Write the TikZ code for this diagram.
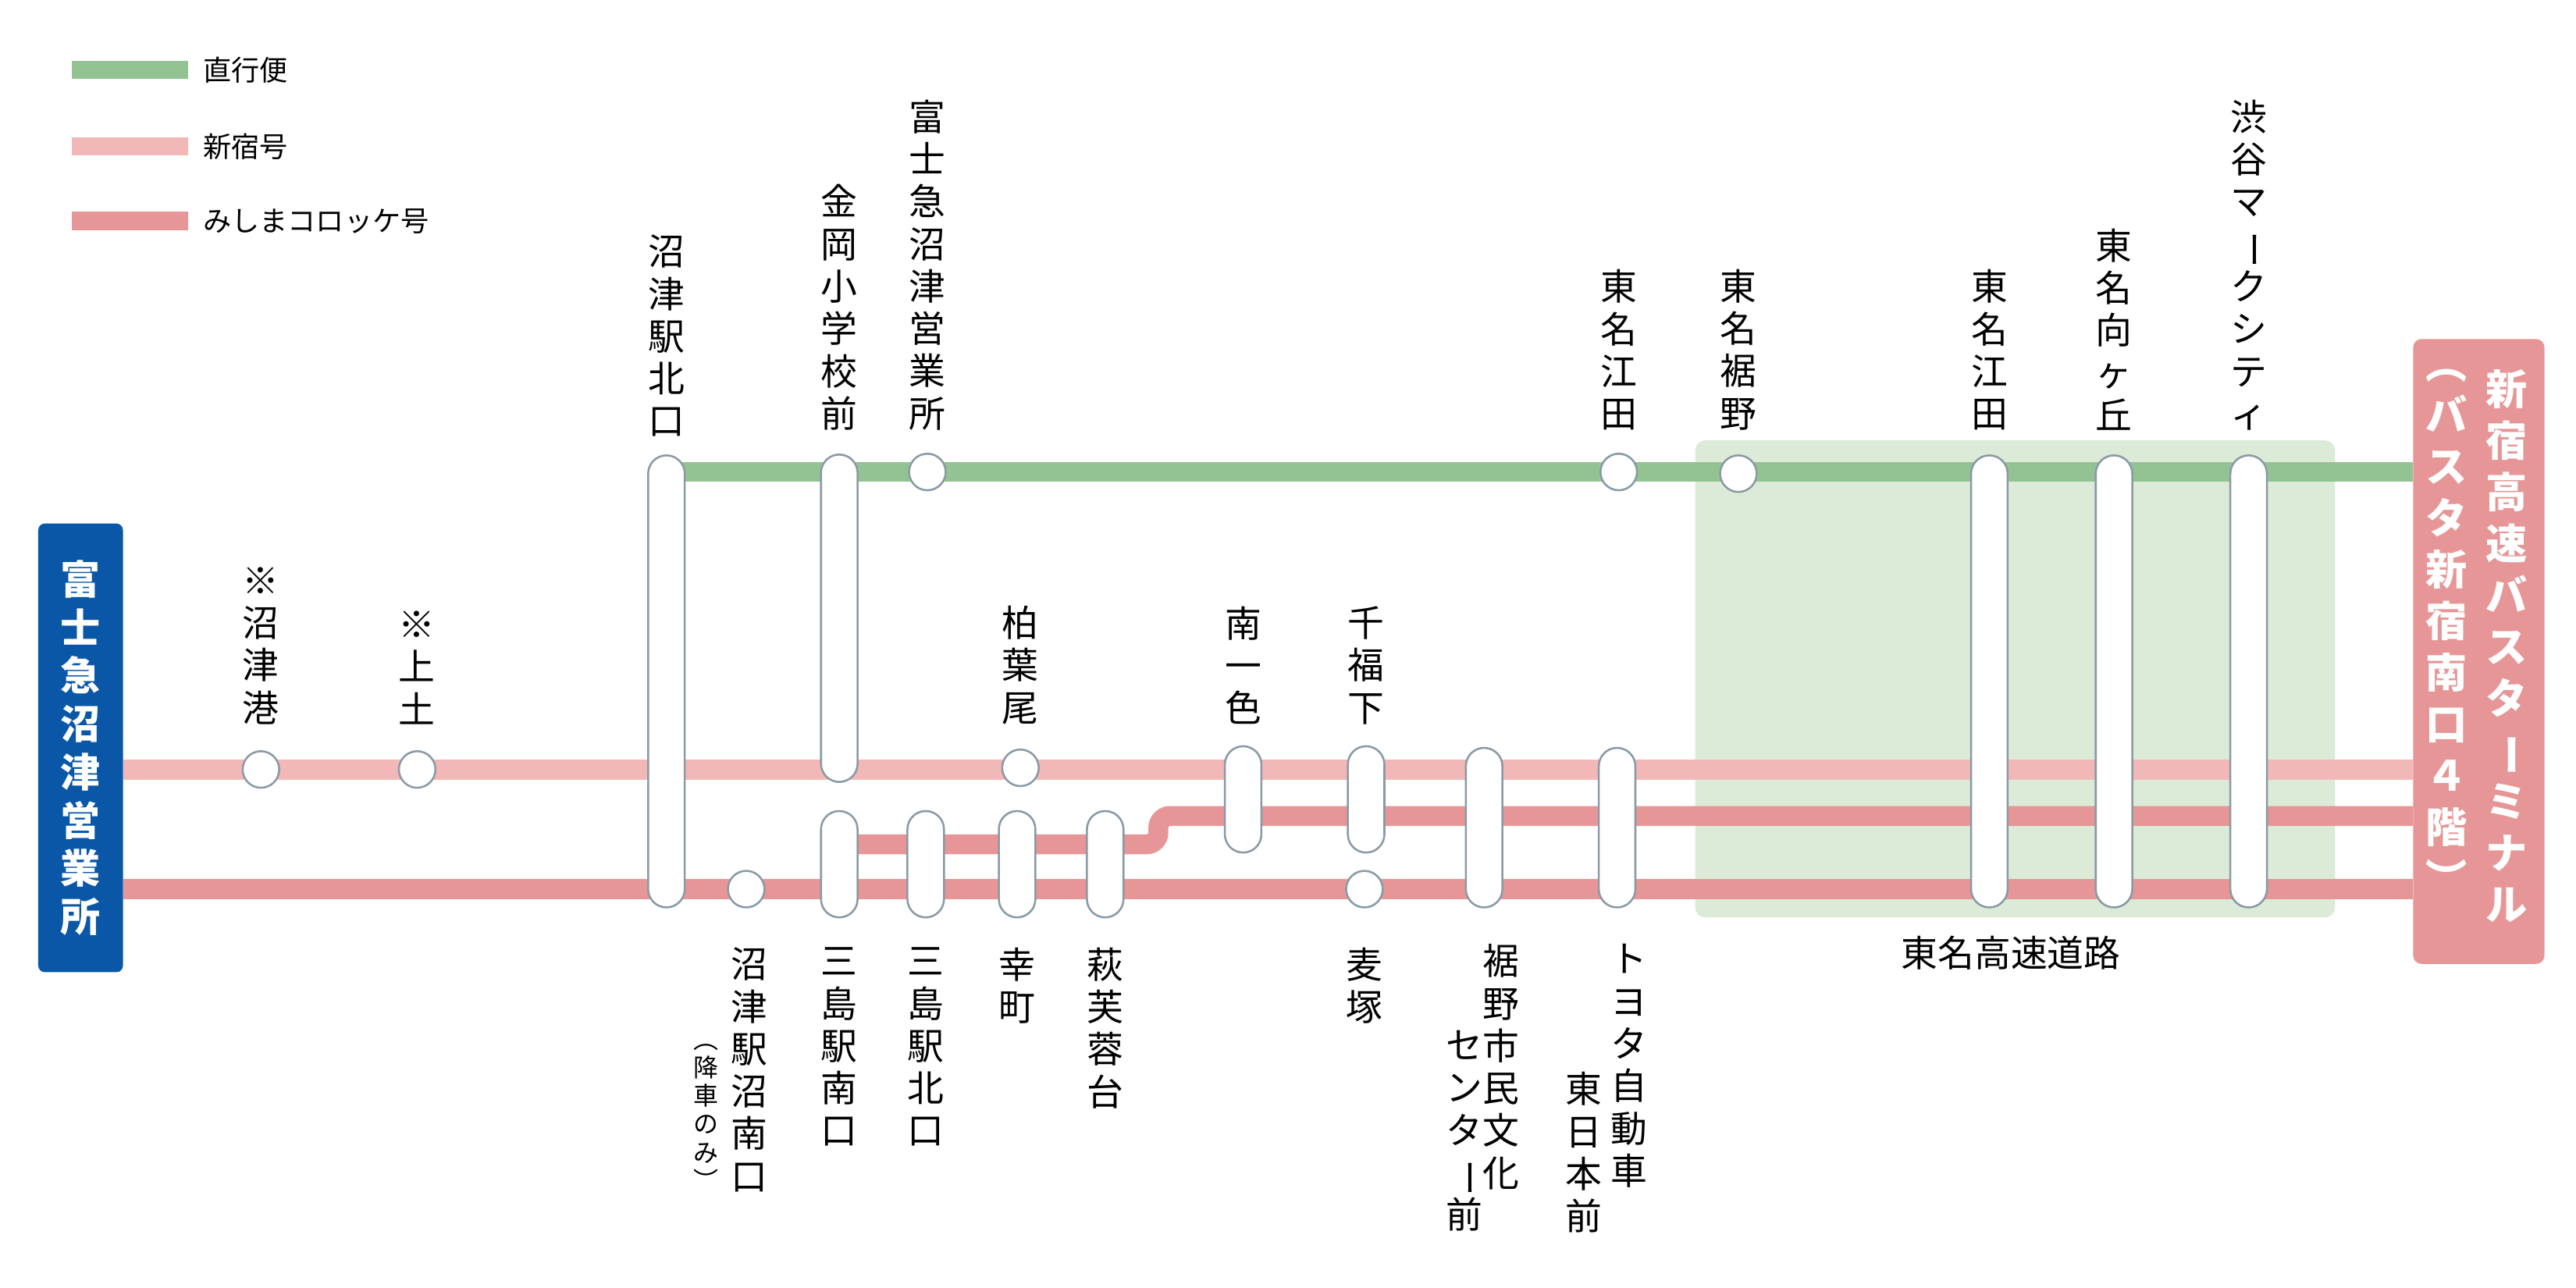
\documentclass[tikz,border=0pt]{standalone}
\usepackage{fontspec}
\setmainfont{Noto Sans CJK JP}
\usepackage{graphicx}
\newcommand\VB{\rotatebox[origin=c]{-90}{ー}}
\definecolor{gr}{HTML}{93C393}
\definecolor{lp}{HTML}{F2B8B8}
\definecolor{mp}{HTML}{E69696}
\definecolor{bl}{HTML}{0A57A8}
\definecolor{hl}{HTML}{DBEBD8}
\definecolor{st}{HTML}{8A9AA6}
\tikzset{
  lab/.style={align=center,inner sep=0pt,font=\fontsize{22}{25.5}\selectfont},
  up/.style={lab,anchor=south},
  dn/.style={lab,anchor=north},
  pill/.style={draw=st,line width=1.2pt,fill=white,rounded corners=11pt,minimum width=22pt,inner sep=0pt},
  stop/.style={draw=st,line width=1.2pt,fill=white,circle,minimum size=22pt,inner sep=0pt},
  gl/.style={gr,line width=12pt},
  pl/.style={lp,line width=12pt},
  ml/.style={mp,line width=12pt},
  leg/.style={anchor=west,inner sep=0pt,font=\fontsize{17}{20}\selectfont},
}
\begin{document}
\begin{tikzpicture}[x=1pt,y=-1pt]
\useasboundingbox (0,0) rectangle (1550,775);
% legend
\draw[gr,line width=11pt] (43,42) -- (113,42);
\node[leg] (l1) at (122,42) {直行便};
\draw[lp,line width=11pt] (43,88) -- (113,88);
\node[leg] (l2) at (122,88) {新宿号};
\draw[mp,line width=11pt] (43,133) -- (113,133);
\node[leg] (l3) at (122,133) {みしまコロッケ号};
% highlight
\fill[hl,rounded corners=6pt] (1020,265) rectangle (1405,552);
\node[lab,anchor=north] (tomei) at (1210,563) {東名高速道路};
% terminals
\node[fill=bl,rounded corners=4pt,minimum width=51pt,minimum height=270pt,inner sep=0pt] (orig) at (48.5,450) {};
\node[text=white,font=\bfseries\fontsize{24}{29}\selectfont,align=center,inner sep=0pt] at (orig) {富\\士\\急\\沼\\津\\営\\業\\所};
\node[fill=mp,rounded corners=5pt,minimum width=79pt,minimum height=376pt,inner sep=0pt] (dest) at (1491.5,392) {};
\node[text=white,font=\bfseries\fontsize{25}{31}\selectfont,align=center,inner sep=0pt,anchor=north] at (1508,222) {新\\宿\\高\\速\\バ\\ス\\タ\\\VB\\ミ\\ナ\\ル};
\node[text=white,font=\bfseries\fontsize{25}{31}\selectfont,align=center,inner sep=0pt,anchor=north] at (1472,222) {︵\\バ\\ス\\タ\\新\\宿\\南\\口\\４\\階\\︶};
% lines
\coordinate (g0) at (401,284); \coordinate (g1) at (1452,284);
\coordinate (p0) at (74,463); \coordinate (p1) at (1452,463);
\coordinate (m0) at (74,535); \coordinate (m1) at (1452,535);
\coordinate (b0) at (515,508); \coordinate (b1) at (1452,491);
\draw[gl] (g0) -- (g1);
\draw[pl] (p0) -- (p1);
\draw[ml] (m0) -- (m1);
\draw[ml,rounded corners=7pt] (b0) -- (697,508) -- (697,491) -- (b1);
% stations
\node[stop] (s1) at (157,463) {};
\node[up] at (157,436) {※\\沼\\津\\港};
\node[stop] (s2) at (251,463) {};
\node[up] at (251,436) {※\\上\\土};
\node[pill,minimum height=272pt] (s3) at (401,410) {};
\node[up] at (401,263) {沼\\津\\駅\\北\\口};
\node[stop] (s4) at (449,535) {};
\node[dn] at (451,570) {沼\\津\\駅\\沼\\南\\口};
\node[dn,font=\fontsize{15}{17}\selectfont] at (425,628) {︵\\降\\車\\の\\み\\︶};
\node[pill,minimum height=197pt] (s5) at (505,372) {};
\node[up] at (505,259) {金\\岡\\小\\学\\校\\前};
\node[pill,minimum height=64pt] (s6) at (505,520) {};
\node[dn] at (505,570) {三\\島\\駅\\南\\口};
\node[stop] (s7) at (558,284) {};
\node[up] at (558,259) {富\\士\\急\\沼\\津\\営\\業\\所};
\node[pill,minimum height=64pt] (s8) at (557,520) {};
\node[dn] at (557,570) {三\\島\\駅\\北\\口};
\node[stop] (s9) at (614,462) {};
\node[up] at (614,436) {柏\\葉\\尾};
\node[pill,minimum height=64pt] (s10) at (612,520) {};
\node[dn] at (612,570) {幸\\町};
\node[pill,minimum height=64pt] (s11) at (665,520) {};
\node[dn] at (665,570) {萩\\芙\\蓉\\台};
\node[pill,minimum height=64pt] (s12) at (748,481) {};
\node[up] at (748,436) {南\\一\\色};
\node[pill,minimum height=64pt] (s13) at (822,481) {};
\node[up] at (822,436) {千\\福\\下};
\node[stop] (s14) at (821,535) {};
\node[dn] at (821,570) {麦\\塚};
\node[pill,minimum height=96pt] (s15) at (893,498) {};
\node[dn] at (903,568) {裾\\野\\市\\民\\文\\化};
\node[dn] at (881,620) {セ\\ン\\タ\\\VB\\前};
\node[pill,minimum height=96pt] (s16) at (973,498) {};
\node[dn] at (980,568) {ト\\ヨ\\タ\\自\\動\\車};
\node[dn] at (953,645) {東\\日\\本\\前};
\node[stop] (s17) at (974,284) {};
\node[up] at (974,259) {東\\名\\江\\田};
\node[stop] (s18) at (1046,285) {};
\node[up] at (1046,259) {東\\名\\裾\\野};
\node[pill,minimum height=272pt] (s19) at (1197,410) {};
\node[up] at (1197,259) {東\\名\\江\\田};
\node[pill,minimum height=272pt] (s20) at (1272,410) {};
\node[up] at (1272,259) {東\\名\\向\\ヶ\\丘};
\node[pill,minimum height=272pt] (s21) at (1353,410) {};
\node[up] at (1353,259) {渋\\谷\\マ\\\VB\\ク\\シ\\テ\\ィ};
\end{tikzpicture}
\end{document}
